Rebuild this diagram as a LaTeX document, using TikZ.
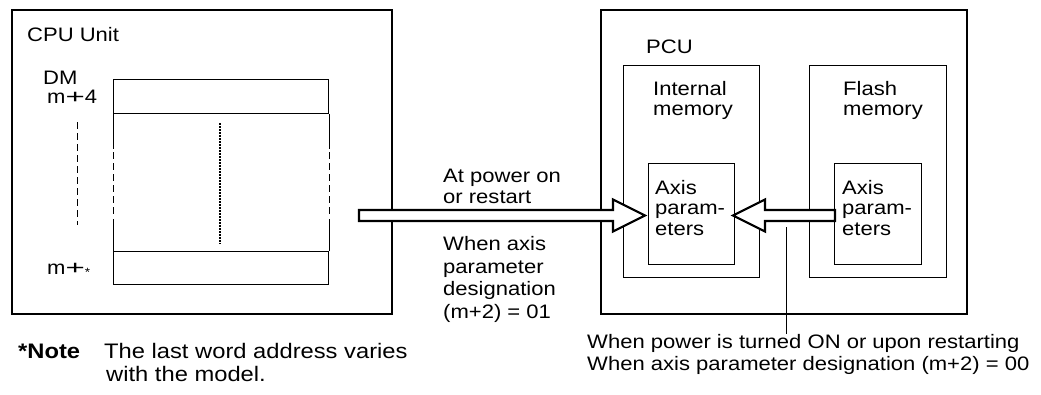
\documentclass[tikz,border=0pt]{standalone}
\usepackage{fontspec}
\setmainfont{Liberation Sans}[FakeStretch=1.13]
\usetikzlibrary{positioning,calc}

\begin{document}
\begin{tikzpicture}[x=1pt,y=-1pt,font=\fontsize{19.5}{21}\selectfont,
  unit/.style={draw,line width=2.2pt,inner sep=0,anchor=north west},
  mem/.style={draw,line width=1.3pt,inner sep=0,anchor=north west},
  cell/.style={draw,line width=1pt,inner sep=0,anchor=north west},
  txt/.style={anchor=base west,inner sep=0,align=left},
  notetxt/.style={txt,font=\fontsize{21}{24}\selectfont},
  blk/.style={draw,line width=2.2pt,fill=white,line join=miter},
  dsh/.style={line width=1pt,dash pattern=on 7pt off 4pt}]
\useasboundingbox (0,0) rectangle (1041,394);
% ===== CPU Unit with DM area =====
\node[unit,minimum width=380,minimum height=304] (cpu) at (11,9) {};
\node[txt] (cpulbl) at (27,41) {CPU Unit};
\node[txt] (dm) at (43,84) {DM};
\node[txt] (mfirst) at (47,103) {m\scalebox{1.5}[1]{+}4};
\node[txt] (mlast) at (47,274) {m\scalebox{1.5}[1]{+}\raisebox{-2.5pt}{\fontsize{12}{12}\selectfont *}};
\node[cell,minimum width=215,minimum height=34] (wfirst) at (113,79) {};
\node[cell,minimum width=215,minimum height=33] (wlast) at (113,251) {};
% sides of the skipped words: solid, dashed, solid
\foreach \s in {west,east}{
  \draw[line width=1pt] (wfirst.south \s) -- ++(0,35);
  \draw[dsh] ($(wfirst.south \s)+(0,38)$) -- ($(wlast.north \s)+(0,-34)$);
  \draw[line width=1pt] ($(wlast.north \s)+(0,-32)$) -- (wlast.north \s);
}
\draw[line width=1.5pt,dash pattern=on 1.5pt off 1.5pt] (220,123) -- (220,244);
\draw[dsh] (77,122) -- (77,225);
% ===== PCU with both memories =====
\node[unit,minimum width=366,minimum height=304] (pcu) at (600,9) {};
\node[txt] (pculbl) at (646,53) {PCU};
\node[mem,minimum width=136,minimum height=212] (intmem) at (623,65) {};
\node[mem,minimum width=137,minimum height=212] (flash) at (809,65) {};
% multi-line labels: placed at the baseline of their last line
\node[txt,font=\fontsize{19.5}{20}\selectfont] (intlbl) at (653,115) {Internal\\memory};
\node[txt,font=\fontsize{19.5}{20}\selectfont] (flashlbl) at (843,115) {Flash\\memory};
\node[mem,minimum width=86,minimum height=101] (intax) at (648,163) {};
\node[mem,minimum width=87,minimum height=101] (flax) at (834,163) {};
\node[txt,font=\fontsize{19.5}{20.7}\selectfont] (intaxlbl) at (655,235.5) {Axis\\param-\\eters};
\node[txt,font=\fontsize{19.5}{20.7}\selectfont] (flaxlbl) at (842,235.5) {Axis\\param-\\eters};
% ===== transfer arrows =====
\coordinate (src) at (359,215.5);
\coordinate (tipL) at (645,215.5);
\coordinate (flout) at (835,215.5);
\coordinate (tipR) at (733,215.5);
\foreach \a/\b/\d in {src/tipL/-1,flout/tipR/1}{
  \draw[blk] ($(\a)+(0,-5.5)$) -- ($(\b)+(\d*32,-5.5)$) -- ($(\b)+(\d*32,-16)$)
    -- (\b) -- ($(\b)+(\d*32,16)$) -- ($(\b)+(\d*32,5.5)$) -- ($(\a)+(0,5.5)$) -- cycle;
}
\node[txt] (onlbl) at (443,203) {At power on\\or restart};
\node[txt,font=\fontsize{19.5}{22.5}\selectfont] (desig01) at (443,318) {When axis\\parameter\\designation\\(m+2) = 01};
% ===== leader and notes =====
\coordinate (ldtop) at (786,227);
\node[txt,font=\fontsize{19.5}{22}\selectfont] (desig00) at (587,370) {When power is turned ON or upon restarting\\When axis parameter designation (m+2) = 00};
\draw[line width=1pt] (ldtop) -- (ldtop |- desig00.north);
\node[notetxt] (note) at (18,358) {\bfseries *Note};
\node[notetxt] (notetxt1) at (104,358) {The last word address varies};
\node[notetxt] (notetxt2) at (106,381) {with the model.};
\end{tikzpicture}
\end{document}
